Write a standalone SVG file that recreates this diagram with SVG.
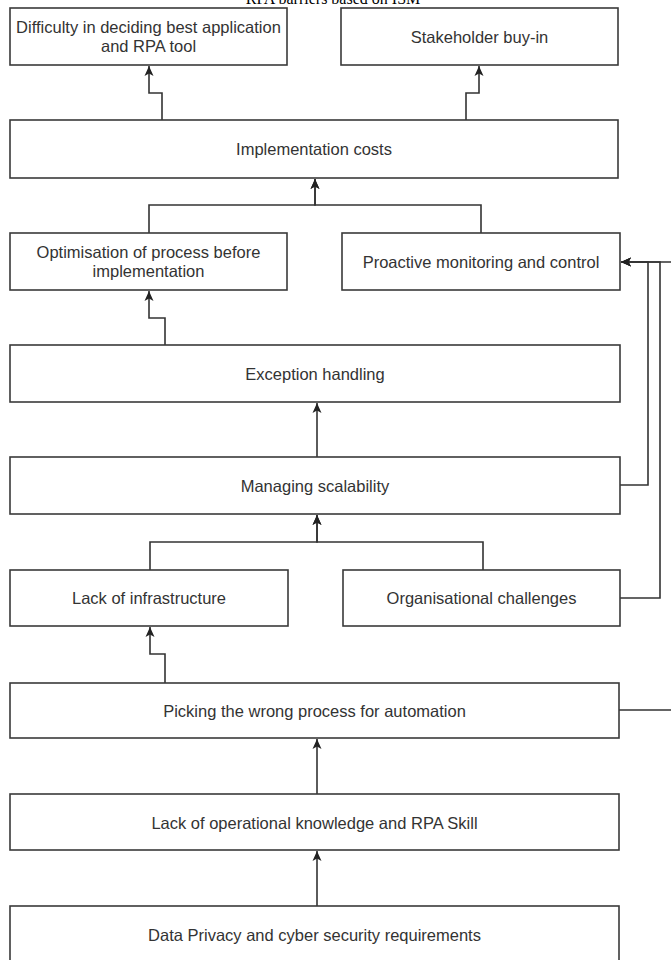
<svg xmlns="http://www.w3.org/2000/svg" width="671" height="960" viewBox="0 0 671 960">
  <defs>
    <marker id="ah" markerUnits="userSpaceOnUse" markerWidth="10" markerHeight="10" viewBox="0 0 10 10" refX="10" refY="5" orient="auto">
      <path d="M0,0.5 L10,5 L0,9.5 L2.5,5 Z" fill="#222"/>
    </marker>
  </defs>
  <style>
    .box { fill: #ffffff; stroke: #3a3a3a; stroke-width: 1.6; }
    .lbl { font-family: "Liberation Sans", Arial, sans-serif; font-size: 16.5px; fill: #333; text-anchor: middle; dominant-baseline: central; }
    .title { font-family: "Liberation Serif", "Times New Roman", serif; font-size: 16px; fill: #000; text-anchor: middle; }
    .c { fill: none; stroke: #333; stroke-width: 1.6; }
    .ca { fill: none; stroke: #333; stroke-width: 1.6; marker-end: url(#ah); }
  </style>
  <rect width="671" height="960" fill="#ffffff"/>
  <text class="title" x="333" y="4">RPA barriers based on ISM</text>

  <g id="connectors">
    <path class="ca" d="M162,120 V93 H149 V66"/>
    <path class="ca" d="M466,120 V93 H479 V66"/>
    <path class="ca" d="M149,233 V205 H315 V179"/>
    <path class="ca" d="M481,233 V205 H315 V179"/>
    <path class="ca" d="M165,345 V318 H149 V291"/>
    <path class="ca" d="M317,457 V403"/>
    <path class="ca" d="M150,570 V542 H317 V515"/>
    <path class="ca" d="M483,570 V542 H317 V515"/>
    <path class="ca" d="M165,683 V654 H150 V627"/>
    <path class="ca" d="M317,794 V739"/>
    <path class="ca" d="M317,906 V851"/>
    <path class="ca" d="M620,485 H648 V262 H621"/>
    <path class="ca" d="M620,598 H660 V262 H621"/>
    <path class="ca" d="M619,710 H676 V262 H621"/>
  </g>

  <g id="n-difficulty">
    <rect class="box" x="10" y="8" width="277" height="57"/>
    <text class="lbl" x="148.5" y="27">Difficulty in deciding best application</text>
    <text class="lbl" x="148.5" y="46">and RPA tool</text>
  </g>
  <g id="n-stakeholder">
    <rect class="box" x="341" y="8" width="277" height="57"/>
    <text class="lbl" x="479.5" y="37">Stakeholder buy-in</text>
  </g>
  <g id="n-implementation-costs">
    <rect class="box" x="10" y="120" width="608" height="58"/>
    <text class="lbl" x="314" y="149">Implementation costs</text>
  </g>
  <g id="n-optimisation">
    <rect class="box" x="10" y="233" width="277" height="57"/>
    <text class="lbl" x="148.5" y="252">Optimisation of process before</text>
    <text class="lbl" x="148.5" y="271">implementation</text>
  </g>
  <g id="n-proactive">
    <rect class="box" x="342" y="233" width="278" height="57"/>
    <text class="lbl" x="481" y="262">Proactive monitoring and control</text>
  </g>
  <g id="n-exception">
    <rect class="box" x="10" y="345" width="610" height="57"/>
    <text class="lbl" x="315" y="374">Exception handling</text>
  </g>
  <g id="n-managing-scalability">
    <rect class="box" x="10" y="457" width="610" height="57"/>
    <text class="lbl" x="315" y="486">Managing scalability</text>
  </g>
  <g id="n-lack-infrastructure">
    <rect class="box" x="10" y="570" width="278" height="56"/>
    <text class="lbl" x="149" y="598">Lack of infrastructure</text>
  </g>
  <g id="n-organisational">
    <rect class="box" x="343" y="570" width="277" height="56"/>
    <text class="lbl" x="481.5" y="598">Organisational challenges</text>
  </g>
  <g id="n-picking">
    <rect class="box" x="10" y="683" width="609" height="55"/>
    <text class="lbl" x="314.5" y="711">Picking the wrong process for automation</text>
  </g>
  <g id="n-lack-operational">
    <rect class="box" x="10" y="794" width="609" height="56"/>
    <text class="lbl" x="314.5" y="823">Lack of operational knowledge and RPA Skill</text>
  </g>
  <g id="n-data-privacy">
    <rect class="box" x="10" y="906" width="609" height="57"/>
    <text class="lbl" x="314.5" y="935">Data Privacy and cyber security requirements</text>
  </g>
</svg>
